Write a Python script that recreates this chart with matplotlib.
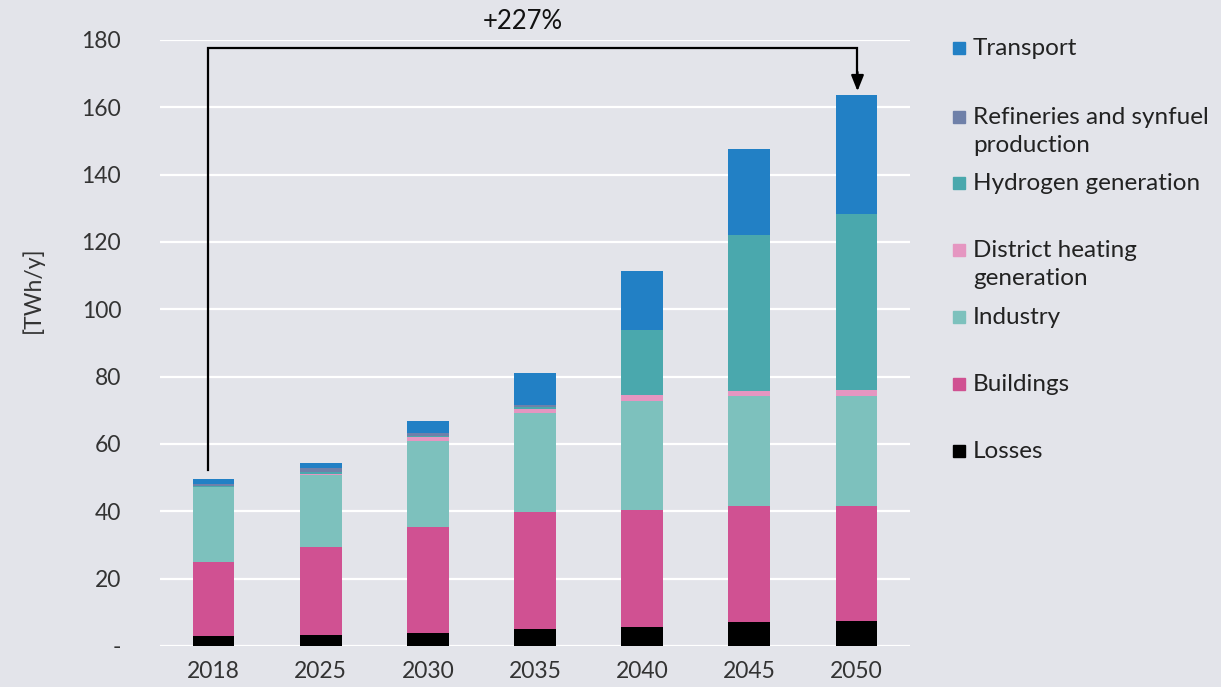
import matplotlib
matplotlib.use("Agg")
import matplotlib.pyplot as plt
import numpy as np
from matplotlib.patches import Rectangle

plt.rcParams['font.family'] = ['Lato', 'DejaVu Sans']

years = ["2018", "2025", "2030", "2035", "2040", "2045", "2050"]
series_names = ["Losses", "Buildings", "Industry", "District heating\ngeneration",
                "Hydrogen generation", "Refineries and synfuel\nproduction", "Transport"]
losses     = [3.0, 3.3, 4.0, 5.0, 5.7, 7.0, 7.3]
buildings  = [22.0, 26.2, 31.4, 34.9, 34.6, 34.5, 34.2]
industry   = [22.1, 21.2, 25.6, 29.3, 32.4, 32.9, 32.9]
district   = [0.2, 0.4, 1.0, 1.2, 2.0, 1.4, 1.7]
hydrogen   = [0.2, 0.5, 0.5, 0.5, 19.2, 46.3, 52.1]
refineries = [0.6, 1.3, 0.8, 0.7, 0.1, 0.0, 0.0]
transport  = [1.6, 1.5, 3.6, 9.5, 17.3, 25.5, 35.4]
colors = ["#000000", "#D05192", "#7DC1BD", "#E596C1", "#4AA8AD", "#6F80A9", "#2280C5"]
yticks = [0, 20, 40, 60, 80, 100, 120, 140, 160, 180]
ytick_labels = ["-", "20", "40", "60", "80", "100", "120", "140", "160", "180"]
growth_label = "+227%"

bg = "#E3E4EA"
W, H = 1221, 687
fig = plt.figure(figsize=(W / 100, H / 100), dpi=100, facecolor=bg)
ax = fig.add_axes([160 / W, 1 - 646 / H, (910 - 160) / W, (646 - 40) / H], facecolor=bg)

x = np.arange(len(years))
data = [losses, buildings, industry, district, hydrogen, refineries, transport]
bottom = np.zeros(len(years))
for vals, c, name in zip(data, colors, series_names):
    v = np.array(vals)
    ax.bar(x, v, bottom=bottom, width=0.39, color=c, zorder=3, linewidth=0)
    bottom += v
totals = bottom

ax.set_xlim(-0.5, 6.5)
ax.set_ylim(0, 180)
ax.set_yticks(yticks)
ax.set_yticklabels(ytick_labels)
ax.set_xticks(x)
ax.set_xticklabels(years)
ax.grid(axis='y', color='white', linewidth=1.6, zorder=0)
ax.grid(axis='x', visible=False)
for s in ax.spines.values():
    s.set_visible(False)
ax.tick_params(axis='both', length=0, labelsize=16.5, colors='#333333')
ax.tick_params(axis='y', pad=28)
ax.tick_params(axis='x', pad=11)

fig.text(33 / W, 1 - 290 / H, "[TWh/y]", rotation=90, ha='center', va='center',
         fontsize=16.5, color='#333333')

# growth annotation
x0 = -0.056
x1 = x[-1] + 0.01
ytop = 177.5
ax.plot([x0, x0, x1, x1], [totals[0] + 2.6, ytop, ytop, 170], color='black',
        lw=1.6, zorder=4, clip_on=False, solid_joinstyle='miter')
ax.annotate("", xy=(x1, totals[-1] + 1.2), xytext=(x1, 170.5),
            arrowprops=dict(arrowstyle='-|>,head_length=0.95,head_width=0.38',
                            color='black', lw=1.6, shrinkA=0, shrinkB=0),
            annotation_clip=False, zorder=5)
ax.text(2.885, 185.6, growth_label, ha='center', va='center', fontsize=18.5,
        color='#111111', clip_on=False)

# legend (manual)
legend_order = list(range(len(series_names)))[::-1]
marker_y = [48, 117, 183, 250, 317, 384, 451]
for i, my in zip(legend_order, marker_y):
    fig.patches.append(Rectangle((953 / W, 1 - (my + 6) / H), 12 / W, 12 / H,
                                 transform=fig.transFigure, color=colors[i]))
    fig.text(973 / W, 1 - (my - 10) / H, series_names[i], ha='left', va='top',
             fontsize=17.5, color='#222222', linespacing=1.4)

fig.savefig("out.png", dpi=100, facecolor=bg)
